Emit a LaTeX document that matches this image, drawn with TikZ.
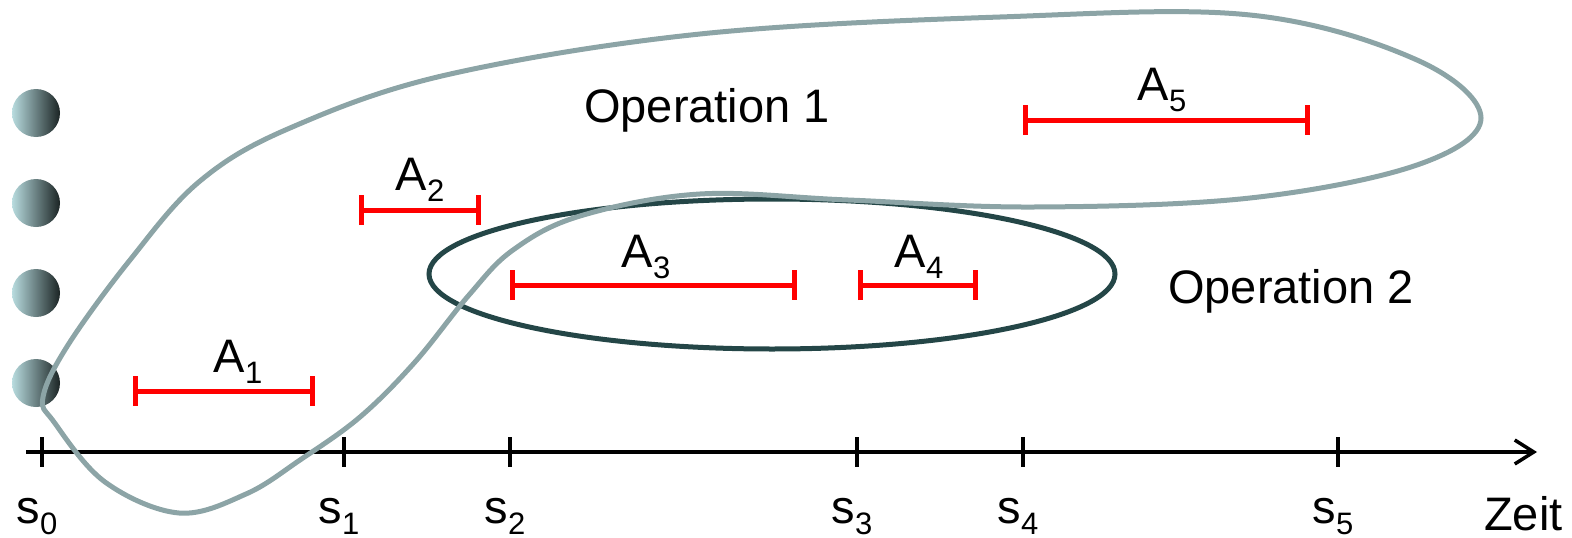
\documentclass[tikz,border=0pt]{standalone}
\usepackage{fontspec}
\setmainfont{Liberation Sans}
\usetikzlibrary{arrows.meta}
\definecolor{blobgrey}{HTML}{8CA4A6}
\definecolor{opdark}{HTML}{244647}
\definecolor{ballL}{HTML}{B8DCDF}
\definecolor{ballM}{HTML}{96B6B8}
\definecolor{ballR}{HTML}{1B2424}
\definecolor{ivred}{HTML}{FF0000}
\newcommand{\lbl}[2]{#1\raisebox{-11pt}{\fontsize{31}{31}\selectfont #2}}
\begin{document}
\begin{tikzpicture}[x=1pt,y=-1pt,
  bigtext/.style={font=\fontsize{47}{56}\selectfont, inner sep=0pt, anchor=base},
  interval/.style={draw=ivred, line width=5pt, arrows={Bar[width=30pt]-Bar[width=30pt]}},
  axisline/.style={line width=3.5pt, draw=black, arrows={-Straight Barb[length=19pt,width=24pt]}},
  tickmark/.style={line width=3.5pt, draw=black},
  ball/.style={left color=ballL, middle color=ballM, right color=ballR},
  op1/.style={draw=blobgrey, line width=5pt},
  op2/.style={draw=opdark, line width=5pt}]
\useasboundingbox (0,0) rectangle (1572,538);

% balls
\shade[ball] (36,113) circle [radius=24];
\shade[ball] (36,203) circle [radius=24];
\shade[ball] (36,293) circle [radius=24];
\shade[ball] (36,383) circle [radius=24];

% axis
\coordinate (axs) at (26,452);
\coordinate (axe) at (1537,452);
\draw[axisline] (axs) -- (axe);
\foreach \x/\n in {42/0,344/1,510/2,857/3,1023/4,1338/5}{
  \coordinate (t\n a) at (\x,437);
  \coordinate (t\n b) at (\x,467);
  \draw[tickmark] (t\n a) -- (t\n b);
  \node[bigtext] (s\n) at (\x-5,523) {\lbl{s}{\n}};
}
\node[bigtext, anchor=base west] (zeit) at (1484,530) {Zeit};

% operation 2 ellipse
\draw[op2] (772,274) ellipse [x radius=343, y radius=75];

% operation 1 blob
\draw[op1] plot[smooth cycle, tension=0.6] coordinates {
 (43,397) (68,345) (130,260) (200,181) (290,128) (446,75) (700,34)
 (1000,17) (1250,15) (1417,60) (1481,118) (1417,165) (1250,198)
 (1034,207) (848,200) (700,194) (580,216) (513,250) (469,295)
 (415,362) (360,417) (300,460) (246,494) (179,513) (105,482) (54,422)};

% intervals
\coordinate (a1s) at (133,391); \coordinate (a1e) at (315,391);
\coordinate (a2s) at (359,210); \coordinate (a2e) at (481,210);
\coordinate (a3s) at (510,285); \coordinate (a3e) at (797,285);
\coordinate (a4s) at (858,285); \coordinate (a4e) at (978,285);
\coordinate (a5s) at (1023,120); \coordinate (a5e) at (1310,120);
\draw[interval] (a1s) -- (a1e);
\draw[interval] (a2s) -- (a2e);
\draw[interval] (a3s) -- (a3e);
\draw[interval] (a4s) -- (a4e);
\draw[interval] (a5s) -- (a5e);
\node[bigtext] (l1) at (238,372) {\lbl{A}{1}};
\node[bigtext] (l2) at (420,190) {\lbl{A}{2}};
\node[bigtext] (l3) at (646,267) {\lbl{A}{3}};
\node[bigtext] (l4) at (919,267) {\lbl{A}{4}};
\node[bigtext] (l5) at (1162,100) {\lbl{A}{5}};

\node[bigtext] (op1t) at (707,122) {Operation 1};
\node[bigtext] (op2t) at (1291,303) {Operation 2};
\end{tikzpicture}
\end{document}
